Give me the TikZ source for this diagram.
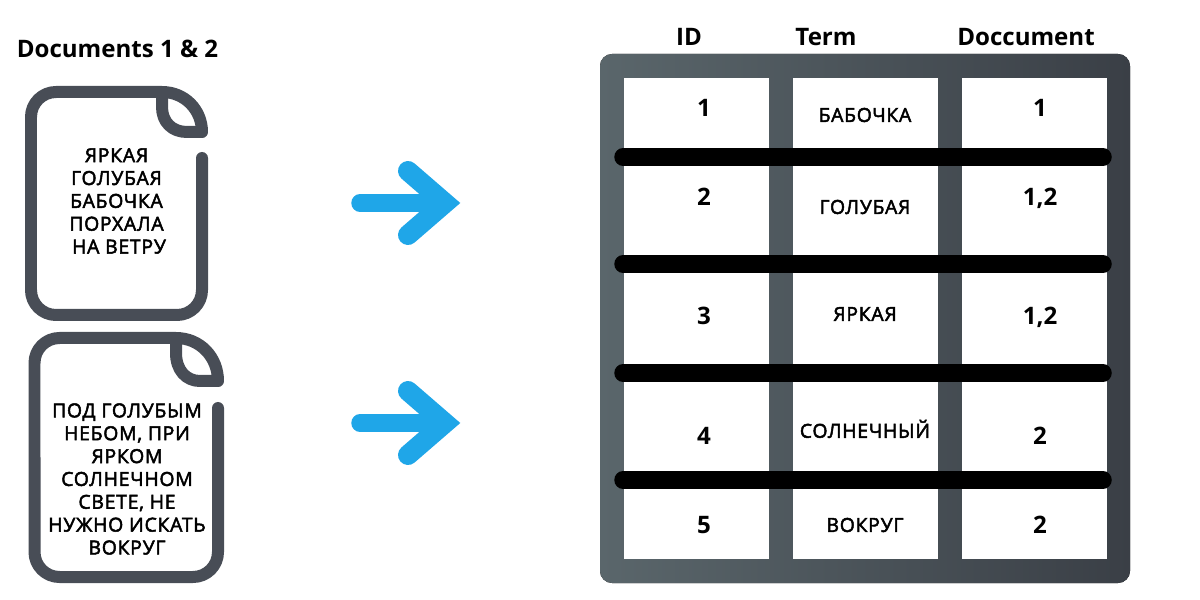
\documentclass[tikz,border=0pt]{standalone}
\usepackage{fontspec}
\setmainfont{Open Sans}
\usepackage{tikz}
\definecolor{docgrey}{HTML}{484D56}
\definecolor{panelleft}{HTML}{5A666B}
\definecolor{panelright}{HTML}{3A3F46}
\definecolor{arrowblue}{HTML}{1FA6E8}
\tikzset{
    heading/.style={font=\fontsize{6.85}{8}\selectfont\bfseries},
    cellnum/.style={font=\fontsize{6.85}{8}\selectfont\bfseries, text depth=0pt},
    term/.style={font=\addfontfeatures{LetterSpace=4,FakeBold=2.5}\fontsize{5.5}{6.5}\selectfont},
    doctext/.style={align=center, inner sep=0pt, font=\addfontfeatures{LetterSpace=4,FakeBold=2.5}\fontsize{5.5}{6.5}\selectfont},
    docline/.style={draw=docgrey, line width=.12cm, line cap=round, line join=round},
    blueshaft/.style={draw=arrowblue, line width=.175cm, line cap=round},
    bluehead/.style={draw=arrowblue, line width=.2cm, line cap=round, line join=miter},
    cellbox/.style={fill=white, draw=none, minimum width=1.45cm, minimum height=4.81cm, inner sep=0pt},
    rowbar/.style={draw=black, line width=.175cm, line cap=round},
}

\begin{document}
\begin{tikzpicture}
    \useasboundingbox (0, 0) rectangle (12, 6);

    % Left documents
    \node[heading] (doctitle) at (1.175, 5.51) {Documents 1 \& 2};

    \draw[docline] (2.02, 4.42) -- (2.02, 3.1) arc[start angle=0, end angle=-90, radius=.25]
        -- (.56, 2.85) arc[start angle=270, end angle=180, radius=.25]
        -- (.31, 4.83) arc[start angle=180, end angle=90, radius=.25]
        -- (1.62, 5.08) .. controls (1.85, 5.08) and (2.02, 4.9) .. (2.02, 4.68) -- (1.87, 4.68)
        .. controls (1.72, 4.68) and (1.62, 4.78) .. (1.62, 4.93) -- (1.62, 5.08);
    \node[doctext] (docone) at (1.165, 3.99) {ЯРКАЯ\\ГОЛУБАЯ\\БАБОЧКА\\ПОРХАЛА\\\hspace{.05cm}НА ВЕТРУ};

    \draw[docline] (2.18, 1.92) -- (2.18, .48) arc[start angle=0, end angle=-90, radius=.25]
        -- (.595, .23) arc[start angle=270, end angle=180, radius=.25]
        -- (.345, 2.37) arc[start angle=180, end angle=90, radius=.25]
        -- (1.76, 2.62) .. controls (2.0, 2.62) and (2.18, 2.43) .. (2.18, 2.19) -- (2.0, 2.19)
        .. controls (1.86, 2.19) and (1.76, 2.3) .. (1.76, 2.47) -- (1.76, 2.62);
    \node[doctext] (doctwo) at (1.27, 1.21) {ПОД ГОЛУБЫМ\\НЕБОМ, ПРИ\\ЯРКОМ\\СОЛНЕЧНОМ\\СВЕТЕ, НЕ\\НУЖНО ИСКАТЬ\\ВОКРУГ};

    % Arrows
    \foreach \name/\y in {upper/3.97, lower/1.77} {
        \draw[blueshaft] (3.6, \y) -- (4.4, \y);
        \draw[bluehead] (4.08, \y+.32) -- (4.45, \y) -- (4.08, \y-.32);
    }

    % Table panel
    \fill[rounded corners=.12cm, left color=panelleft, right color=panelright] (6, .17) rectangle (11.3, 5.46);
    \node[cellbox] (colid) at (6.965, 2.815) {};
    \node[cellbox] (colterm) at (8.655, 2.815) {};
    \node[cellbox] (coldoc) at (10.345, 2.815) {};

    % Row separators
    \foreach \y in {4.43, 3.36, 2.27, 1.2} {
        \draw[rowbar] (6.23, \y) -- (11.03, \y);
    }

    % Column headings
    \node[heading] (headid) at (6.89, 5.63) {ID};
    \node[heading] (headterm) at (8.26, 5.63) {Term};
    \node[heading] (headdoc) at (10.26, 5.63) {Doccument};

    % Rows
    \foreach \n/\w/\d/\ya/\yb in {1/БАБОЧКА/1/4.92/4.85, 2/ГОЛУБАЯ/{1,2}/4.03/3.93, 3/ЯРКАЯ/{1,2}/2.84/2.86, 4/СОЛНЕЧНЫЙ/2/1.64/1.71, 5/ВОКРУГ/2/.75/.75} {
        \node[cellnum] (id\n) at (7.04, \ya) {\n};
        \node[term] (term\n) at (8.65, \yb) {\w};
        \node[cellnum] (doc\n) at (10.4, \ya) {\d};
    }
\end{tikzpicture}
\end{document}
